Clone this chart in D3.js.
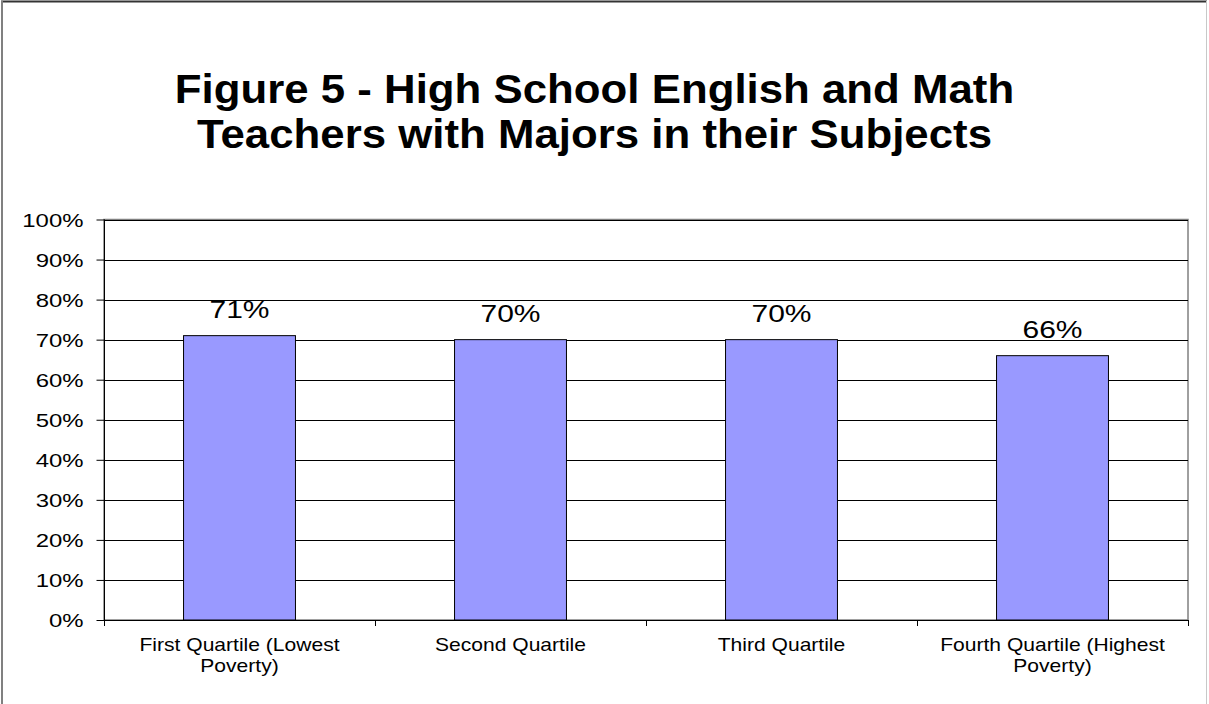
<!DOCTYPE html>
<html>
<head>
<meta charset="utf-8">
<script src="https://cdn.jsdelivr.net/npm/d3@7/dist/d3.min.js"></script>
<style>
  html, body { margin: 0; padding: 0; background: #fff; }
  svg { display: block; font-family: "Liberation Sans", Arial, sans-serif; }
</style>
</head>
<body>
<svg id="chart" width="1209" height="704"></svg>
<script>
// Chart data
const titleLines = ["Figure 5 - High School English and Math", "Teachers with Majors in their Subjects"];
const categories = ["First Quartile (Lowest Poverty)", "Second Quartile", "Third Quartile", "Fourth Quartile (Highest Poverty)"];
const categoryLines = [["First Quartile (Lowest", "Poverty)"], ["Second Quartile"], ["Third Quartile"], ["Fourth Quartile (Highest", "Poverty)"]];
const values = [0.71, 0.70, 0.70, 0.66];
const valueLabels = ["71%", "70%", "70%", "66%"];
const yTicks = [0, 0.1, 0.2, 0.3, 0.4, 0.5, 0.6, 0.7, 0.8, 0.9, 1.0];
const yTickLabels = ["0%", "10%", "20%", "30%", "40%", "50%", "60%", "70%", "80%", "90%", "100%"];

const svg = d3.select("#chart");
const W = 1209, H = 704;
const plot = { left: 104, right: 1188, top: 219.5, bottom: 620 };

// Outer frame
svg.append("line").attr("x1", 1).attr("x2", 1207).attr("y1", 1.5).attr("y2", 1.5)
  .attr("stroke", "#333").attr("stroke-width", 2);
svg.append("line").attr("x1", 2).attr("x2", 2).attr("y1", 1).attr("y2", H)
  .attr("stroke", "#808080").attr("stroke-width", 2);
svg.append("line").attr("x1", 1206.5).attr("x2", 1206.5).attr("y1", 1).attr("y2", H)
  .attr("stroke", "#c8c8c8").attr("stroke-width", 1);

// Text widened or narrowed horizontally around its anchor
function wideText(sel, x, y, sx) {
  return sel.attr("x", 0).attr("y", 0)
    .attr("transform", `translate(${x},${y}) scale(${sx},1)`);
}

// Title
const title = svg.append("g").attr("font-weight", "bold").attr("font-size", 40)
  .attr("text-anchor", "middle").attr("fill", "#000");
titleLines.forEach((t, i) => {
  wideText(title.append("text").text(t), 594.5, 103 + i * 45, 1.095);
});

// Scales
const x = d3.scaleBand().domain(categories).range([plot.left, plot.right])
  .paddingInner(0.587).paddingOuter(0.2935);
const y = d3.scaleLinear().domain([0, 1]).range([plot.bottom, plot.top]);

// Plot area border
svg.append("rect").attr("x", plot.left).attr("y", plot.top)
  .attr("width", plot.right - plot.left).attr("height", plot.bottom - plot.top)
  .attr("fill", "#fff").attr("stroke", "#808080").attr("stroke-width", 1.5);

// Gridlines
svg.append("g").selectAll("line").data(yTicks.slice(1)).join("line")
  .attr("x1", plot.left).attr("x2", plot.right)
  .attr("y1", d => Math.round(y(d)) + 0.5).attr("y2", d => Math.round(y(d)) + 0.5)
  .attr("stroke", "#000").attr("stroke-width", 1);

// Bars
svg.append("g").selectAll("rect").data(values).join("rect")
  .attr("x", (d, i) => x(categories[i]))
  .attr("y", d => y(d))
  .attr("width", x.bandwidth())
  .attr("height", d => y(0) - y(d))
  .attr("fill", "#9999FF").attr("stroke", "#000").attr("stroke-width", 1);

// Value labels
svg.append("g").attr("font-size", 24).attr("text-anchor", "middle").attr("fill", "#000")
  .selectAll("text").data(values).join("text")
  .text((d, i) => valueLabels[i])
  .each(function (d, i) {
    wideText(d3.select(this), x(categories[i]) + x.bandwidth() / 2, y(d) - 18, 1.25);
  });

// Y axis
const yAxis = svg.append("g").attr("transform", `translate(${plot.left + 0.5},0)`)
  .call(d3.axisLeft(y).tickValues(yTicks).tickFormat((d, i) => yTickLabels[i])
    .tickSize(8).tickPadding(13));
yAxis.select(".domain").attr("stroke", "#000").attr("d", `M0,${plot.top}V${plot.bottom}`);
yAxis.selectAll(".tick line").attr("stroke", "#000");
yAxis.selectAll(".tick text")
  .attr("font-size", 18).attr("font-family", "Liberation Sans, Arial, sans-serif").attr("fill", "#000")
  .attr("dy", null)
  .each(function () {
    wideText(d3.select(this), -21, 6.5, 1.33);
  });

// X axis baseline and category boundary ticks
const xAxis = svg.append("g");
xAxis.append("line").attr("x1", plot.left).attr("x2", plot.right + 1)
  .attr("y1", plot.bottom + 0.5).attr("y2", plot.bottom + 0.5).attr("stroke", "#000");
const bounds = d3.range(categories.length + 1).map(i => plot.left + i * x.step());
xAxis.selectAll("line.tick").data(bounds).join("line").attr("class", "tick")
  .attr("x1", d => Math.round(d) + 0.5).attr("x2", d => Math.round(d) + 0.5)
  .attr("y1", plot.bottom).attr("y2", plot.bottom + 6).attr("stroke", "#000");

// Category labels
const catG = svg.append("g").attr("font-size", 18).attr("text-anchor", "middle").attr("fill", "#000");
categories.forEach((c, i) => {
  categoryLines[i].forEach((ln, j) => {
    wideText(catG.append("text").text(ln), x(c) + x.bandwidth() / 2, 651 + j * 21, 1.17);
  });
});
</script>
</body>
</html>
